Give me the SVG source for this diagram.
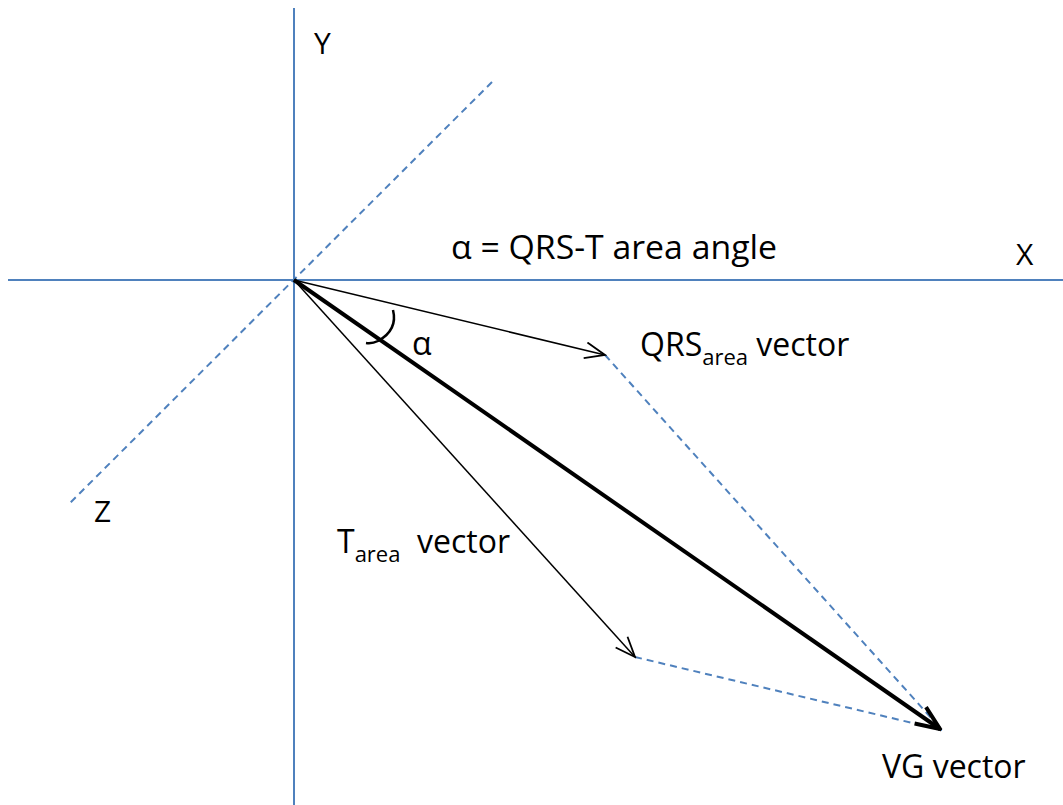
<svg xmlns="http://www.w3.org/2000/svg" width="1063" height="805" viewBox="0 0 1063 805">
<style>
.axis{stroke:#4f81bd;stroke-width:2;fill:none}
.dash{stroke:#4f81bd;stroke-width:2;fill:none;stroke-dasharray:7,5}
.vec{stroke:#000;stroke-width:1.5;fill:none}
.big{stroke:#000;stroke-width:4;fill:none}
text{font-family:"Open Sans","Liberation Sans",sans-serif;fill:#000}
</style>
<defs>
<marker id="open" viewBox="-22 -9 24 18" markerWidth="24" markerHeight="18" refX="0" refY="0" orient="auto" markerUnits="userSpaceOnUse">
<path d="M-20,-8 L0,0 L-20,8" fill="none" stroke="#000" stroke-width="1.8"/>
</marker>
<marker id="openBig" viewBox="-26 -12 28 24" markerWidth="28" markerHeight="24" refX="0" refY="0" orient="auto" markerUnits="userSpaceOnUse">
<path d="M-24,-10 L0,0 L-24,10" fill="none" stroke="#000" stroke-width="4"/>
</marker>
</defs>
<g id="axes">
<line class="axis" x1="294" y1="8" x2="294" y2="805"/>
<line class="axis" x1="8" y1="280" x2="1063" y2="280"/>
<line class="dash" x1="492" y1="82" x2="68" y2="505"/>
</g>
<g id="connectors">
<line class="dash" x1="605" y1="355" x2="942" y2="730"/>
<line class="dash" x1="635" y1="657" x2="942" y2="730"/>
<line class="vec" x1="294" y1="280" x2="605" y2="355" marker-end="url(#open)"/>
<line class="vec" x1="294" y1="280" x2="635" y2="657" marker-end="url(#open)"/>
<line class="big" x1="294" y1="280" x2="940" y2="729" marker-end="url(#openBig)"/>
<path d="M393,310 Q398,330 378,341 Q372,344 366,343" fill="none" stroke="#000" stroke-width="2.5"/>
</g>
<g id="labels">
<text x="314" y="54" font-size="30">Y</text>
<text x="1016" y="265" font-size="30">X</text>
<text x="94" y="522" font-size="30">Z</text>
<text x="451" y="259" font-size="32" textLength="326" lengthAdjust="spacingAndGlyphs">α = QRS-T area angle</text>
<text x="412" y="355" font-size="32">α</text>
<text x="640" y="356" font-size="32">QRS<tspan font-size="22" dy="9">area</tspan><tspan dy="-9"> vector</tspan></text>
<text x="337" y="553" font-size="32">T<tspan font-size="22" dy="9">area</tspan><tspan dy="-9" x="417">vector</tspan></text>
<text x="882" y="778" font-size="32">VG vector</text>
</g>
</svg>
